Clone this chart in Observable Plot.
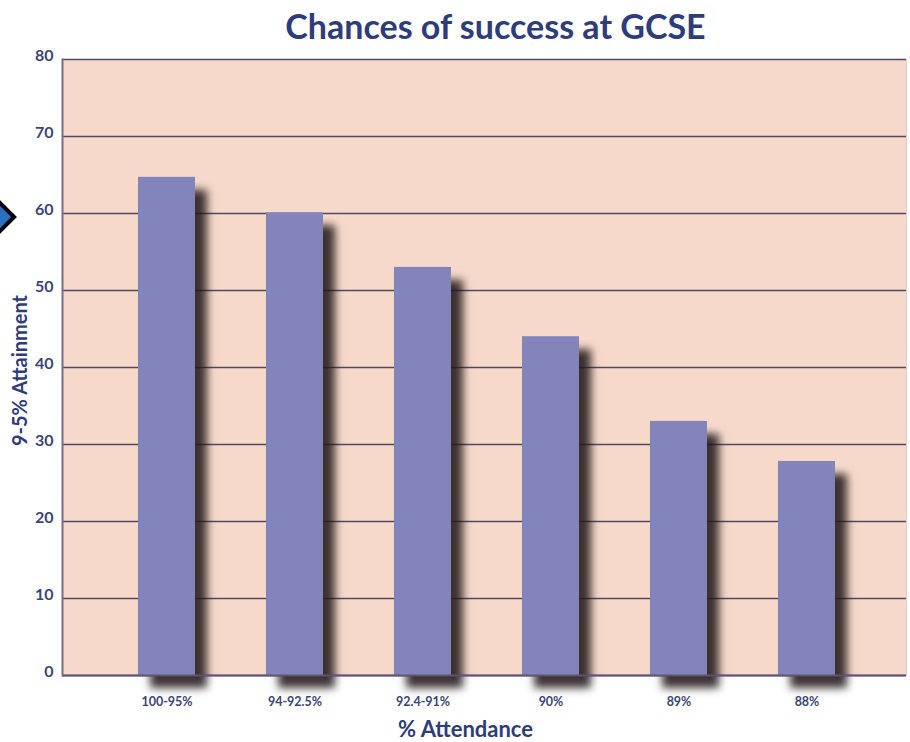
<!DOCTYPE html>
<html>
<head>
<meta charset="utf-8">
<script src="https://cdn.jsdelivr.net/npm/d3@7"></script>
<script src="https://cdn.jsdelivr.net/npm/@observablehq/plot@0.6"></script>
<style>
  html, body { margin: 0; padding: 0; background: #fff; }
  #wrap { position: relative; width: 910px; height: 742px; overflow: hidden; }
  #deco { position: absolute; left: -17px; top: 203px; width: 20px; height: 20px;
          transform: rotate(45deg); background: #2a6fc0; border: 4px solid #000; }
</style>
</head>
<body>
<div id="wrap"><div id="deco"></div></div>
<script>
const categories = ["100-95%", "94-92.5%", "92.4-91%", "90%", "89%", "88%"];
const values = [64.7, 60.1, 53, 44, 33, 27.8];
const yTicks = [0, 10, 20, 30, 40, 50, 60, 70, 80];
const title = "Chances of success at GCSE";
const xLabel = "% Attendance";
const yLabel = "9-5% Attainment";

const data = categories.map((c, i) => ({category: c, value: values[i]}));

const font = "Lato, 'Open Sans', sans-serif";
const textColor = "#2e3c7c";
const tickColor = "#3b4577";
const gridColor = "#4f4766";

const chart = Plot.plot({
  width: 910,
  height: 742,
  marginTop: 59,
  marginBottom: 67,
  marginLeft: 62,
  marginRight: 4,
  style: {fontFamily: font, background: "transparent", overflow: "visible"},
  x: {type: "band", domain: categories, range: [137, 835], paddingInner: 0.555, paddingOuter: 0, label: null},
  y: {domain: [0, 80], label: null},
  marks: [
    Plot.frame({fill: "#f6d9cb", stroke: "#d8cfd8", strokeWidth: 1}),
    Plot.gridY(yTicks, {stroke: gridColor, strokeOpacity: 1, strokeWidth: 1.6}),
    Plot.barY(data, {x: "category", y: "value", fill: "#8385ba"}),
    Plot.ruleY([0], {stroke: "#5d5676", strokeWidth: 2.2}),
    Plot.frame({anchor: "left", stroke: "#756d8e", strokeWidth: 2}),
    Plot.axisY(yTicks, {tickSize: 0, tickPadding: 9, fontSize: 16, fontWeight: "bold", fill: tickColor, dy: -4, label: null}),
    Plot.axisX({tickSize: 0, tickPadding: 22, fontSize: 12.5, fontWeight: "bold", fill: tickColor, label: null}),
    Plot.text([title], {frameAnchor: "top", dy: -31, dx: 11, fontSize: 34, fontWeight: "bold", fill: textColor, lineAnchor: "middle"}),
    Plot.text([xLabel], {frameAnchor: "bottom", dy: 54, dx: -19, fontSize: 22, fontWeight: "bold", fill: textColor, lineAnchor: "middle", textAnchor: "middle"}),
    Plot.text([yLabel], {frameAnchor: "left", dx: -42, dy: 3, rotate: -90, fontSize: 20, fontWeight: "bold", fill: textColor, lineAnchor: "middle", textAnchor: "middle"})
  ]
});

d3.select(chart).select('g[aria-label="bar"]')
  .style("filter", "drop-shadow(12px 13px 4px rgba(35,25,25,0.88))");

document.getElementById("wrap").prepend(chart);
</script>
</body>
</html>
